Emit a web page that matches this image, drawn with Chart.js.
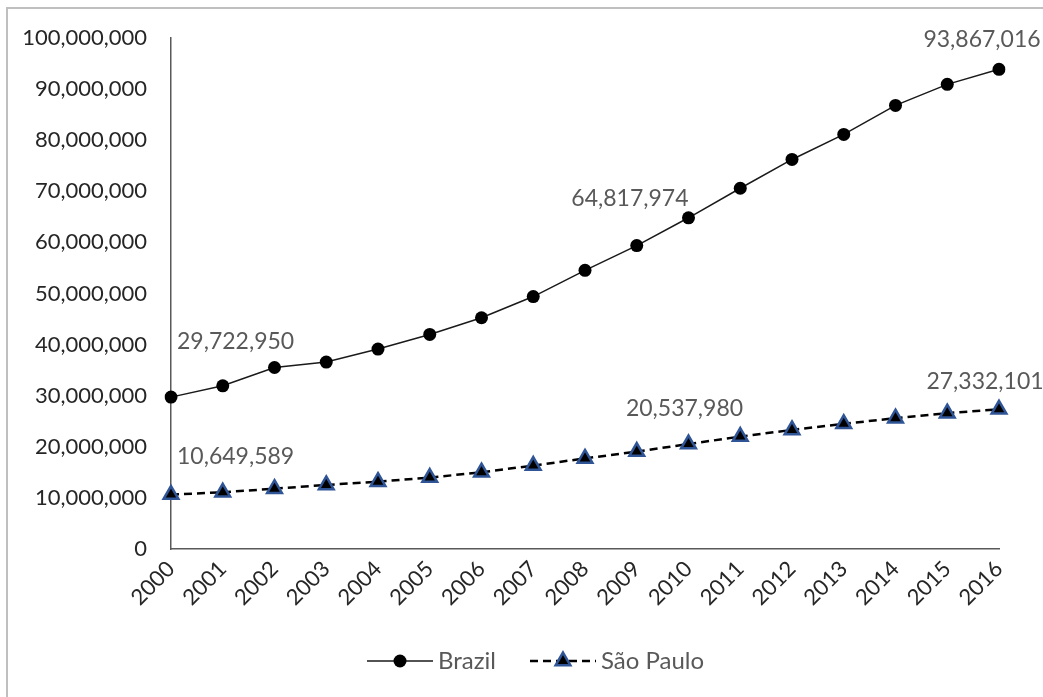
<!DOCTYPE html>
<html>
<head>
<meta charset="utf-8">
<script src="https://cdn.jsdelivr.net/npm/chart.js@4"></script>
<style>
  html, body { margin: 0; padding: 0; background: #fff; }
</style>
</head>
<body>
<canvas id="myChart" width="1043" height="697"></canvas>
<script>
// Years on the x axis
let years = ['2000', '2001', '2002', '2003', '2004', '2005', '2006', '2007', '2008',
             '2009', '2010', '2011', '2012', '2013', '2014', '2015', '2016'];

// Series values
let brazil = [29722950, 31940000, 35520000, 36580000, 39130000, 41990000, 45260000, 49400000, 54530000,
              59370000, 64817974, 70600000, 76230000, 81130000, 86810000, 90930000, 93867016];
let saoPaulo = [10649589, 11100000, 11810000, 12530000, 13180000, 13970000, 15020000, 16320000, 17730000,
                19060000, 20537980, 22000000, 23310000, 24490000, 25610000, 26590000, 27332101];

// Which points get a value label
let brazilLabelIdx = [0, 10, 16];
let saoPauloLabelIdx = [0, 10, 16];

const fontFamily = 'Lato, "Open Sans", sans-serif';

// label placement relative to the point (per dataset, same order as the index lists)
const labelSpots = [
    [{ align: 'left', dx: 6, dy: -56 }, { align: 'right', dx: 0, dy: -19 }, { align: 'center', dx: -17, dy: -30 }],
    [{ align: 'left', dx: 6, dy: -38 }, { align: 'center', dx: -4, dy: -35 }, { align: 'center', dx: -14, dy: -28 }]
];
const labelIdx = [brazilLabelIdx, saoPauloLabelIdx];

// light grey frame on the top and left edges
const frame = {
    id: 'frame',
    beforeDraw(chart) {
        const ctx = chart.ctx;
        ctx.save();
        ctx.strokeStyle = '#bfbfbf';
        ctx.lineWidth = 2;
        ctx.beginPath();
        ctx.moveTo(7, chart.height);
        ctx.lineTo(7, 8);
        ctx.lineTo(chart.width, 8);
        ctx.stroke();
        ctx.restore();
    }
};

// value labels next to a few points
const pointLabels = {
    id: 'pointLabels',
    afterDatasetsDraw(chart) {
        const ctx = chart.ctx;
        ctx.save();
        ctx.font = '23px ' + fontFamily;
        ctx.fillStyle = '#595959';
        ctx.textBaseline = 'middle';
        chart.data.datasets.forEach((ds, di) => {
            const meta = chart.getDatasetMeta(di);
            labelIdx[di].forEach((idx, k) => {
                const spot = labelSpots[di][k];
                const pt = meta.data[idx];
                ctx.textAlign = spot.align;
                ctx.fillText(ds.data[idx].toLocaleString('en-US'), pt.x + spot.dx, pt.y + spot.dy);
            });
        });
        ctx.restore();
    }
};

// legend with line + marker samples under the axis
const legendRow = {
    id: 'legendRow',
    afterDraw(chart) {
        const ctx = chart.ctx;
        const y = 661;
        let x = 367;
        ctx.save();
        ctx.font = '24px ' + fontFamily;
        ctx.textBaseline = 'middle';
        ctx.textAlign = 'left';
        chart.data.datasets.forEach((ds) => {
            ctx.strokeStyle = ds.borderColor;
            ctx.lineWidth = ds.borderWidth;
            ctx.setLineDash(ds.borderDash || []);
            ctx.beginPath();
            ctx.moveTo(x, y);
            ctx.lineTo(x + 66, y);
            ctx.stroke();
            ctx.setLineDash([]);
            ctx.fillStyle = ds.pointBackgroundColor;
            ctx.strokeStyle = ds.pointBorderColor;
            ctx.lineWidth = ds.pointBorderWidth;
            Chart.helpers.drawPoint(ctx, {
                pointStyle: ds.pointStyle,
                radius: ds.pointRadius,
                borderWidth: ds.pointBorderWidth,
                rotation: 0
            }, x + 33, y);
            ctx.fillStyle = '#595959';
            ctx.fillText(ds.label, x + 71, y);
            x += 71 + ctx.measureText(ds.label).width + 34;
        });
        ctx.restore();
    }
};

const data = {
    labels: years,
    datasets: [{
        label: 'Brazil',
        data: brazil,
        borderColor: '#1a1a1a',
        borderWidth: 1.5,
        pointStyle: 'circle',
        pointRadius: 6.5,
        pointBackgroundColor: '#000000',
        pointBorderColor: '#000000',
        pointBorderWidth: 0,
        tension: 0
    }, {
        label: 'São Paulo',
        data: saoPaulo,
        borderColor: '#000000',
        borderWidth: 2.5,
        borderDash: [8, 5],
        pointStyle: 'triangle',
        pointRadius: 8.5,
        pointBackgroundColor: '#000000',
        pointBorderColor: '#2f5597',
        pointBorderWidth: 2.5,
        tension: 0
    }]
};

const config = {
    type: 'line',
    data: data,
    options: {
        responsive: false,
        animation: false,
        layout: {
            padding: { top: 38, right: 44, left: 0, bottom: 0 }
        },
        plugins: {
            legend: { display: false },
            title: { display: false },
            tooltip: { enabled: false }
        },
        scales: {
            x: {
                offset: false,
                grid: { display: false, drawTicks: false },
                border: { display: true, color: '#595959', width: 1.5 },
                ticks: {
                    color: '#262626',
                    font: { family: fontFamily, size: 22 },
                    minRotation: 45,
                    maxRotation: 45,
                    padding: 7,
                    autoSkip: false
                },
                afterFit(scale) {
                    scale.height = 148;
                }
            },
            y: {
                min: 0,
                max: 100000000,
                grid: { display: false, drawTicks: false },
                border: { display: true, color: '#595959', width: 1.5 },
                ticks: {
                    stepSize: 10000000,
                    color: '#262626',
                    font: { family: fontFamily, size: 22 },
                    padding: 24,
                    callback: (v) => v.toLocaleString('en-US')
                },
                afterFit(scale) {
                    scale.width = 171;
                }
            }
        }
    },
    plugins: [frame, pointLabels, legendRow]
};

const chart = new Chart(document.getElementById('myChart'), config);
</script>
</body>
</html>
